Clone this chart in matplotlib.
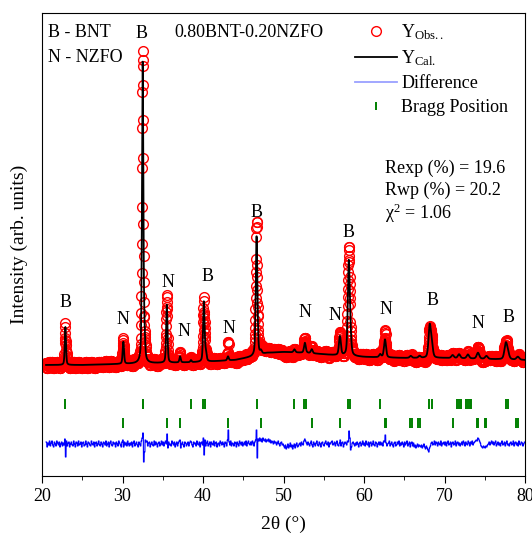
import numpy as np
import matplotlib
matplotlib.use('Agg')
from matplotlib import pyplot as plt
from matplotlib.lines import Line2D

# Rietveld fit of 0.80BNT-0.20NZFO
# intensities in arbitrary counts (axis runs 0..463)

# background knots (2theta, counts)
bg_theta = [20, 25, 30, 35, 40, 44, 46, 48, 50, 53, 56, 60, 65, 70, 75, 80]
bg_level = [111, 111, 112, 113, 114, 116, 119, 123, 124, 123, 121, 119, 118, 118, 117, 116]

# peaks: position, height above background, fwhm
peak_pos = [22.9, 30.1, 32.5, 32.72, 35.5, 37.15, 38.5, 40.1, 40.35, 43.1,
            46.65, 47.2, 51.35, 52.65, 53.5, 57.0, 58.1, 58.3, 62.0, 62.6,
            65.8, 66.9, 68.15, 68.4, 71.0, 71.8, 72.9, 74.15, 75.2, 77.6,
            77.85, 79.1]
peak_height = [38, 22, 300, 20, 58, 6, 2, 60, 8, 4,
               120, 3, 3, 10, 4, 19, 92, 15, 3, 18,
               2, 2, 31, 12, 3, 4, 4, 6, 3, 15,
               6, 3]
peak_fwhm = [0.18, 0.2, 0.2, 0.2, 0.2, 0.2, 0.2, 0.22, 0.22, 0.22,
             0.24, 0.24, 0.26, 0.26, 0.26, 0.28, 0.28, 0.28, 0.3, 0.3,
             0.32, 0.32, 0.34, 0.34, 0.36, 0.36, 0.36, 0.38, 0.38, 0.4,
             0.4, 0.4]

# observed - calculated, every 0.1 deg from 20.5 to 79.9
diff_rows = [
    [2, -3, 1, -1, 3],
    [-2, 1, 3, -1, -3, 2, 0, -2, 3, 1],
    [-1, 2, -3, 0, 2, -2, 1, -1, 5, -13],
    [3, -2, 1, 2, -3, 0, 2, -1, -2, 3],
    [0, -3, 2, 1, -2, 3, -1, 0, 2, -3],
    [1, 2, -2, -1, 3, 0, -3, 2, 1, -1],
    [-2, 3, 0, -1, 2, -3, 1, 2, -2, 0],
    [3, -1, -2, 2, 0, -3, 2, 1, -1, 3],
    [-2, 0, 2, -3, 1, 3, -1, -2, 2, 0],
    [1, -3, 2, 0, -2, 3, 1, -1, -3, 2],
    [4, -3, 2, -1, 1, -2, 3, 0, -2, 1],
    [-1, 2, -3, 1, 3, -2, 0, 2, -1, -3],
    [2, 0, -2, 3, 6, 11, -18, -8, 4, 2],
    [3, -2, 1, 2, -3, 0, 2, -1, -2, 3],
    [-1, 2, 0, -3, 1, 2, -2, 0, 3, -1],
    [2, -2, 1, 3, 0, 10, -4, 2, -1, 0],
    [-2, 3, 1, -1, 2, -3, 0, 2, -2, 1],
    [3, 4, -4, 0, 2, -1, -3, 2, 1, -2],
    [0, 2, -2, 1, 3, 2, -1, -3, 2, 0],
    [1, -2, 3, 0, -1, 2, -3, 1, 2, -1],
    [6, -11, 4, -2, 1, 3, -2, 0, 2, -3],
    [2, 0, -1, 3, -2, 1, 2, -3, 0, 1],
    [-2, 3, 1, -1, 2, 0, -3, 2, 1, -2],
    [4, 14, 2, -1, 3, -2, 1, 0, -2, 2],
    [1, -3, 2, 0, -2, 3, 1, -1, 2, -2],
    [0, 2, -1, 3, -2, 1, 3, 0, -1, 2],
    [-1, 3, 1, -2, 2, 4, 14, -14, 5, 3],
    [6, 3, 5, 2, 6, 4, 3, 5, 2, 4],
    [3, 5, 2, 4, 1, 3, 2, 0, 3, 1],
    [2, -1, 1, 3, 0, -2, 1, 2, -1, 0],
    [-2, -4, -1, -5, -3, 0, -4, -2, 1, -3],
    [-1, -5, -2, 0, -4, -1, 1, -3, -2, 0],
    [1, -2, 2, 0, -1, 3, 5, 3, 1, -1],
    [2, 0, -2, 1, 3, -1, -3, 2, 0, -2],
    [1, 3, -1, -2, 2, 0, -3, 1, 2, -1],
    [-2, 1, 3, 0, -1, 2, -3, 1, 0, 2],
    [3, -1, 0, 2, -2, 1, 3, -1, -2, 1],
    [4, -2, 1, 2, -3, 0, 2, 1, -1, 3],
    [2, 13, 6, -6, -3, 1, 2, 0, -2, 1],
    [-1, 2, 0, -3, 1, 2, -2, 0, 3, -1],
    [1, -2, 3, 0, -1, 2, -3, 1, 2, -2],
    [0, 3, -1, -2, 2, 1, -3, 0, 2, -1],
    [2, -1, 1, -2, 3, 2, 9, 1, -2, 0],
    [1, 3, -2, 0, 2, -1, -3, 1, 2, -2],
    [-1, 2, 0, 3, -2, 1, -1, 2, 0, -3],
    [2, -1, 1, 3, -2, 0, 2, -3, 1, 2],
    [-2, 1, -3, -1, -4, -2, 0, -3, -1, -2],
    [-3, -1, -4, -2, 0, -3, -5, -2, -4, -6],
    [-8, -4, -2, 1, 2, -1, 0, 3, -1, 2],
    [1, -2, 2, 0, -1, 3, -2, 1, 0, 2],
    [-1, 2, -2, 1, 3, -1, 0, 2, -3, 1],
    [2, -1, 0, 3, -2, 1, 2, -1, 1, -2],
    [0, 2, -1, 3, 1, -2, 2, 0, -1, 3],
    [1, -2, 2, 0, 3, -1, 1, 2, 3, 4],
    [3, 6, 5, 3, 1, -2, -3, -4, -2, -3],
    [-4, -2, -3, -1, 0, 2, -1, 1, 3, 0],
    [2, -1, 1, 3, -2, 0, 2, -1, 1, -2],
    [1, 3, -1, 0, 2, -2, 1, 3, -1, 0],
    [-2, 1, 2, -1, 0, 3, -2, 1, 2, -1],
    [1, -2, 3, 0, -1, 2, 1, -2, 0, 2],
]

# Bragg positions
bragg_bnt = [22.9, 32.5, 32.6, 38.5, 40.0, 40.2, 46.7, 51.35, 52.6, 52.75,
             58.05, 58.2, 62.0, 68.1, 68.4, 71.6, 71.8, 72.0, 72.7, 72.9,
             73.1, 73.3, 77.6, 77.9]
bragg_nzfo = [30.1, 35.5, 37.1, 43.1, 47.2, 53.5, 57.0, 62.55, 62.75, 65.7,
              65.9, 66.7, 66.9, 71.0, 74.0, 74.2, 75.0, 75.2, 78.9, 79.1]

# phase labels over the peaks
label_text = ['B', 'N', 'B', 'N', 'N', 'B', 'N', 'B', 'N', 'N', 'B', 'N', 'B', 'N', 'B']
label_theta = [22.9, 30.0, 32.4, 35.6, 37.6, 40.5, 43.2, 46.7, 52.7, 56.4, 58.1,
               62.7, 68.45, 74.2, 77.9]
label_y = [173, 156, 442, 193, 144, 199, 147, 263, 163, 160, 243, 166, 175, 152, 158]

plt.rcParams['font.family'] = ['Liberation Serif', 'DejaVu Serif']
plt.rcParams['mathtext.fontset'] = 'custom'
plt.rcParams['mathtext.rm'] = 'Liberation Serif'
plt.rcParams['mathtext.it'] = 'Liberation Serif:italic'

diff_coarse = np.concatenate([np.array(r, dtype=float) for r in diff_rows])
theta = 20.5 + 0.02 * np.arange(len(diff_coarse) * 5)

# calculated profile: background + pseudo-Voigt peaks
eta = 0.4
calc = np.interp(theta, bg_theta, bg_level).astype(float)
for p, h, w in zip(peak_pos, peak_height, peak_fwhm):
    u = (theta - p) / (w / 2.0)
    calc += h * (eta / (1 + u ** 2) + (1 - eta) * np.exp(-np.log(2) * u ** 2))

diff = np.repeat(diff_coarse, 5)
obs = calc + diff

fig = plt.figure(figsize=(5.32, 5.37), dpi=100)
ax = fig.add_axes([0.079, 0.1136, 0.908, 0.8622])

ax.plot(theta, obs, 'o', mfc='none', mec='red', ms=7, mew=1.0)
ax.plot(theta, calc, color='black', lw=1.3)
ax.plot(theta, 32 + 1.0 * diff, color='blue', lw=0.8)
ax.plot(bragg_bnt, [72] * len(bragg_bnt), '|', color='green', ms=6.5, mew=1.4)
ax.plot(bragg_nzfo, [53] * len(bragg_nzfo), '|', color='green', ms=6.5, mew=1.4)

for t, x, y in zip(label_text, label_theta, label_y):
    ax.text(x, y, t, fontsize=13, ha='center', va='center')

ax.text(20.75, 443, 'B - BNT', fontsize=13, va='center')
ax.text(20.75, 418, 'N - NZFO', fontsize=13, va='center')
ax.text(36.5, 443, '0.80BNT-0.20NZFO', fontsize=13, va='center')
ax.text(62.6, 308, 'Rexp (%) = 19.6', fontsize=13, va='center')
ax.text(62.6, 286, 'Rwp (%) = 20.2', fontsize=13, va='center')
ax.text(62.6, 263, 'χ$^{\\mathregular{2}}$ = 1.06', fontsize=13, va='center')

handles = [Line2D([], [], ls='none', marker='o', mfc='none', mec='red', ms=7, mew=1.0),
           Line2D([], [], color='black', lw=1.3),
           Line2D([], [], color='#9aa0ff', lw=1.3),
           Line2D([], [], ls='none', marker='|', color='green', ms=6, mew=1.4)]
labels = ['Y$_{\\mathregular{Obs..}}$', 'Y$_{\\mathregular{Cal.}}$', 'Difference', 'Bragg Position']
ax.legend(handles, labels, loc='upper left', bbox_to_anchor=(0.63, 1.0), frameon=False,
          fontsize=13, handlelength=2.3, handletextpad=0.25, labelspacing=0.38,
          borderaxespad=0.1)

ax.set_xlim(20, 80)
ax.set_ylim(0, 463)
ax.set_xticks([20, 30, 40, 50, 60, 70, 80])
ax.set_xticks([25, 35, 45, 55, 65, 75], minor=True)
ax.tick_params(axis='x', which='major', labelsize=13, length=5, direction='out')
ax.tick_params(axis='x', which='minor', length=3, direction='out')
ax.set_yticks([])
ax.set_xlabel('2θ (°)', fontsize=14, labelpad=8)
ax.set_ylabel('Intensity (arb. units)', fontsize=14, labelpad=10)

plt.savefig('out.png', dpi=100)
